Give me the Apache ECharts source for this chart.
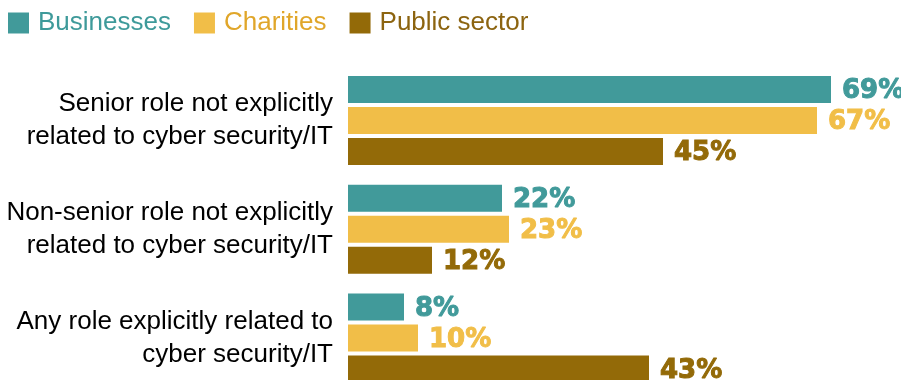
<!DOCTYPE html>
<html>
<head>
<meta charset="utf-8">
<script src="https://cdn.jsdelivr.net/npm/echarts@6/dist/echarts.min.js"></script>
<style>html,body{margin:0;padding:0;background:#fff;}#c{width:901px;height:380px;}</style>
</head>
<body>
<div id="c"></div>
<script>
const categories = [
  "Senior role not explicitly\nrelated to cyber security/IT",
  "Non-senior role not explicitly\nrelated to cyber security/IT",
  "Any role explicitly related to\ncyber security/IT"
];
const seriesNames = ["Businesses", "Charities", "Public sector"];
const businesses = [69, 22, 8];
const charities = [67, 23, 10];
const publicSector = [45, 12, 43];

const barColors = ["#419A9A", "#F1BE48", "#936A08"];
const legendTextColors = ["#3E9A9A", "#E0A62A", "#8C6410"];
const labelColors = ["#419A9A", "#F1BE48", "#936A08"];
const values = [businesses, charities, publicSector];

const chart = echarts.init(document.getElementById('c'), null, {renderer: 'canvas'});
chart.setOption({
  animation: false,
  backgroundColor: '#fff',
  legend: {
    left: 8, top: 10, padding: 0,
    itemWidth: 21, itemHeight: 21, itemGap: 23,
    icon: 'rect',
    textStyle: {fontFamily: 'Liberation Sans, Arial, sans-serif', fontSize: 26, padding: [0, 0, 0, 4]},
    data: seriesNames.map((n, i) => ({name: n, textStyle: {color: legendTextColors[i]}}))
  },
  grid: {left: 348, top: 120.5, width: 490, height: 217.5, containLabel: false},
  xAxis: {
    type: 'value', min: 0, max: 70, show: false
  },
  yAxis: {
    type: 'category', data: categories, inverse: true, boundaryGap: false,
    axisLine: {show: false}, axisTick: {show: false},
    axisLabel: {
      margin: 15, color: '#000', fontSize: 26, lineHeight: 33,
      fontFamily: 'Liberation Sans, Arial, sans-serif', align: 'right'
    }
  },
  series: seriesNames.map((n, i) => ({
    name: n, type: 'bar', data: values[i],
    barWidth: 27, barGap: '15%',
    itemStyle: {color: barColors[i]},
    label: {
      show: true, position: 'right', distance: 11, offset: [0, 2],
      formatter: '{c}%', color: labelColors[i],
      fontFamily: 'DejaVu Sans, sans-serif', fontWeight: 'bold', fontSize: 26,
      textBorderColor: labelColors[i], textBorderWidth: 1
    }
  }))
});
</script>
</body>
</html>
